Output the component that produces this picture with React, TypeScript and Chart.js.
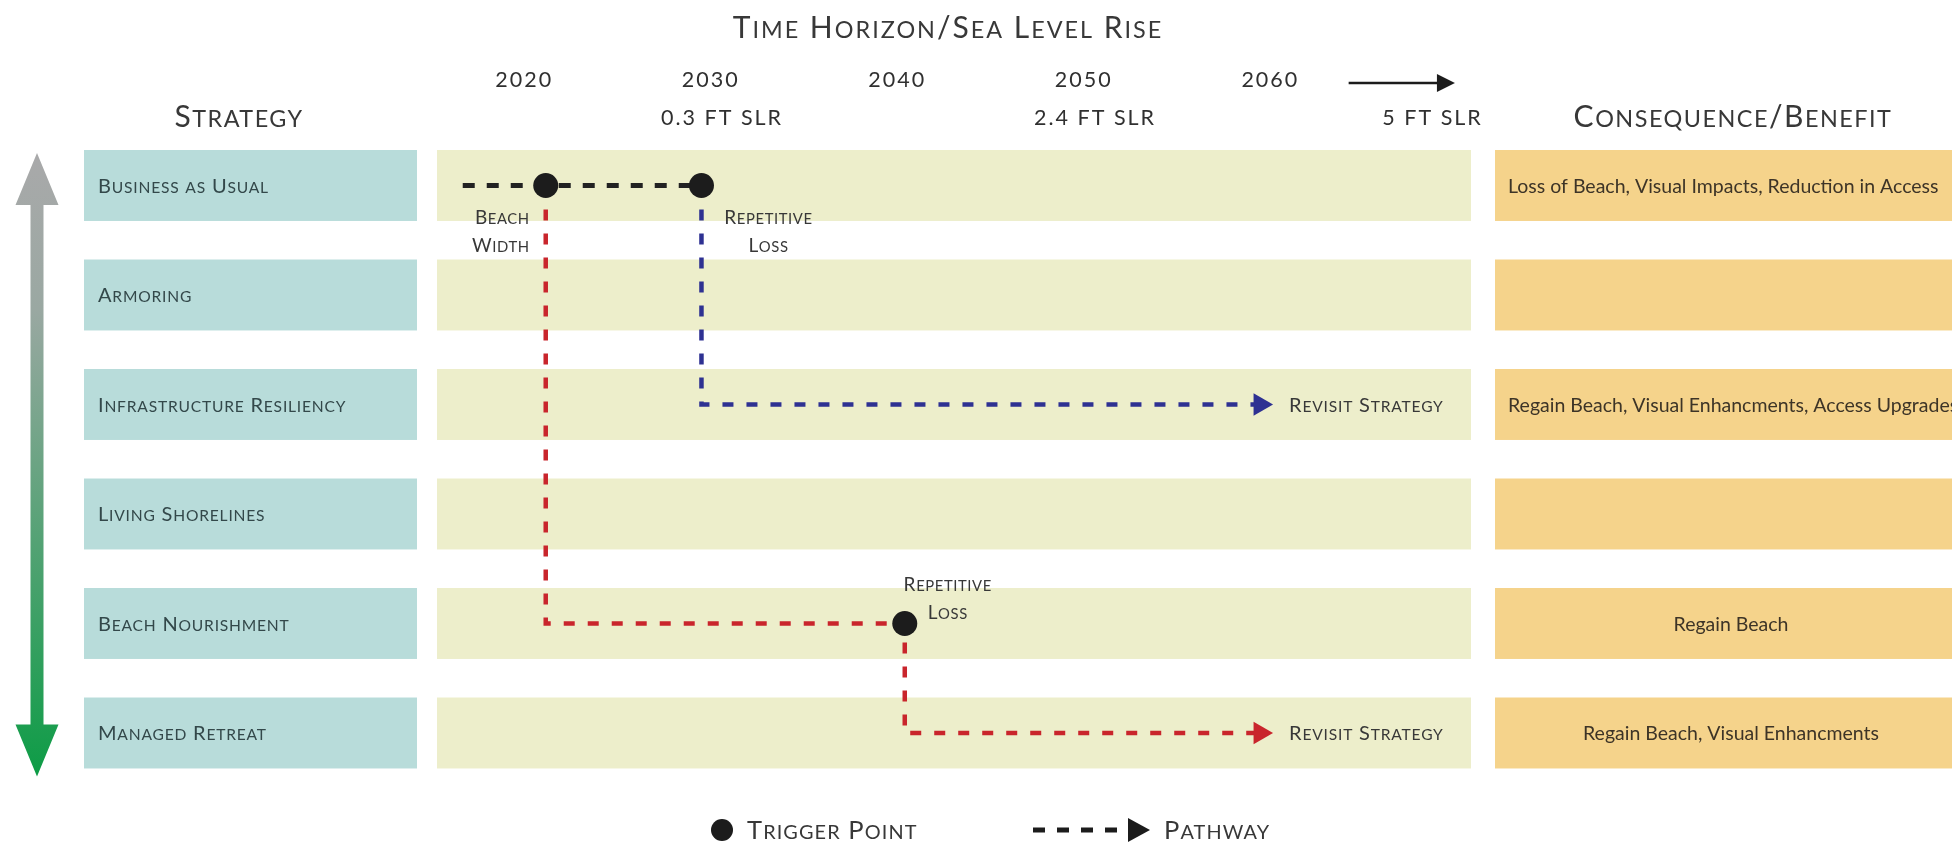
import React, { useEffect, useRef } from 'react';
import { Chart, registerables } from 'chart.js';

Chart.register(...registerables);

// ---------- data ----------
const STRATEGIES = [
  'Business as Usual',
  'Armoring',
  'Infrastructure Resiliency',
  'Living Shorelines',
  'Beach Nourishment',
  'Managed Retreat',
];
const CONSEQUENCES = [
  'Loss of Beach, Visual Impacts, Reduction in Access',
  '',
  'Regain Beach, Visual Enhancments, Access Upgrades',
  '',
  'Regain Beach',
  'Regain Beach, Visual Enhancments',
];
const CONSEQUENCE_ALIGN = ['left', 'left', 'left', 'left', 'center', 'center'];

const TICK_YEARS = [2020, 2030, 2040, 2050, 2060, 2068.7];
const YEAR_LABELS = ['2020', '2030', '2040', '2050', '2060', ''];
const SLR_LABELS = ['', '   0.3 FT SLR', '', '   2.4 FT SLR', '', '5 FT SLR'];

const TRIGGER_YEARS = [2021.15, 2029.5, 2040.4];
const TRIGGER_ROWS = [0, 0, 4];
const TRIGGER_NOTES = [
  ['Beach', 'Width'],
  ['Repetitive', 'Loss'],
  ['Repetitive', 'Loss'],
];

const BAU_YEARS = [2016.7, 2021.15, 2029.5];
const BAU_ROWS = [0, 0, 0];
const NOURISH_YEARS = [2021.15, 2021.15, 2040.4, 2040.4, 2059.45];
const NOURISH_ROWS = [0, 4, 4, 5, 5];
const RESILIENCY_YEARS = [2029.5, 2029.5, 2059.45];
const RESILIENCY_ROWS = [0, 2, 2];
const REVISIT_ROWS = [2, 5];
const REVISIT_YEAR = 2059.45;
const REVISIT_LABEL = 'Revisit Strategy';

const TITLE = 'Time Horizon/Sea Level Rise';
const LEFT_HEADER = 'Strategy';
const RIGHT_HEADER = 'Consequence/Benefit';
const LEGEND_POINT = 'Trigger Point';
const LEGEND_PATH = 'Pathway';

// ---------- styles ----------
const TEAL = '#b8dcda';
const YELLOW = '#edeecb';
const ORANGE = '#f5d38b';
const INK = '#383838';
const TICK_INK = '#303030';
const LABEL_INK = '#33484a';
const BROWN_INK = '#3d3427';
const RED = '#c9252c';
const BLUE = '#2e3192';
const BLACK = '#1c1c1c';
const BAND_HALF = 0.324;
const FAMILY = 'Lato';

function zip(xs: number[], ys: number[]) {
  return xs.map((x, i) => ({ x, y: ys[i] }));
}

function drawSmallCaps(
  ctx: CanvasRenderingContext2D,
  text: string,
  x: number,
  y: number,
  size: number,
  align: string,
  color: string,
  spacing = 0,
  ratio = 0.78,
) {
  const runs: { t: string; s: number; w: number }[] = [];
  for (const ch of text) {
    const lower = ch !== ch.toUpperCase();
    const s = lower ? size * ratio : size;
    const c = ch.toUpperCase();
    const last = runs[runs.length - 1];
    if (last && last.s === s) last.t += c;
    else runs.push({ t: c, s, w: 0 });
  }
  ctx.save();
  (ctx as any).letterSpacing = spacing + 'px';
  let total = 0;
  for (const r of runs) {
    ctx.font = `${r.s}px ${FAMILY}`;
    r.w = ctx.measureText(r.t).width;
    total += r.w;
  }
  let cx = align === 'center' ? x - total / 2 : align === 'right' ? x - total : x;
  ctx.fillStyle = color;
  ctx.textAlign = 'left';
  ctx.textBaseline = 'alphabetic';
  const base = y + size * 0.36;
  for (const r of runs) {
    ctx.font = `${r.s}px ${FAMILY}`;
    ctx.fillText(r.t, cx, base);
    cx += r.w;
  }
  ctx.restore();
  return total;
}

function triangleRight(ctx: CanvasRenderingContext2D, tipX: number, cy: number, len: number, halfH: number, color: string) {
  ctx.beginPath();
  ctx.moveTo(tipX, cy);
  ctx.lineTo(tipX - len, cy - halfH);
  ctx.lineTo(tipX - len, cy + halfH);
  ctx.closePath();
  ctx.fillStyle = color;
  ctx.fill();
}

const diagramPlugin = {
  id: 'diagram',
  beforeDraw(chart: any) {
    const { ctx, chartArea: a, scales } = chart;
    const x = scales.x;
    const y = scales.y;
    ctx.save();
    ctx.fillStyle = '#ffffff';
    ctx.fillRect(0, 0, chart.width, chart.height);

    const half = Math.abs(y.getPixelForValue(BAND_HALF) - y.getPixelForValue(0));
    STRATEGIES.forEach((name, i) => {
      const cy = y.getPixelForValue(i);
      ctx.fillStyle = TEAL;
      ctx.fillRect(84, cy - half, 417 - 84, 2 * half);
      ctx.fillStyle = YELLOW;
      ctx.fillRect(a.left, cy - half, a.right - a.left, 2 * half);
      ctx.fillStyle = ORANGE;
      ctx.fillRect(1495, cy - half, chart.width - 1495, 2 * half);
      drawSmallCaps(ctx, name, 98, cy, 20, 'left', LABEL_INK, 0.8);
      const txt = CONSEQUENCES[i];
      if (txt) {
        ctx.font = `19.5px ${FAMILY}`;
        ctx.fillStyle = BROWN_INK;
        ctx.textBaseline = 'middle';
        const al = CONSEQUENCE_ALIGN[i];
        ctx.textAlign = al === 'center' ? 'center' : 'left';
        ctx.fillText(txt, al === 'center' ? 1731 : 1508, cy + 1);
      }
    });

    // vertical gradient double arrow
    const top = y.getPixelForValue(-BAND_HALF) + 3;
    const bottom = y.getPixelForValue(STRATEGIES.length - 1 + BAND_HALF) + 8;
    const cx = 37, sw = 6.5, hw = 21.5, hl = 52;
    const g = ctx.createLinearGradient(0, top, 0, bottom);
    g.addColorStop(0, '#a9a9aa');
    g.addColorStop(0.25, '#9aa8a2');
    g.addColorStop(1, '#0d9c46');
    ctx.beginPath();
    ctx.moveTo(cx, top);
    ctx.lineTo(cx + hw, top + hl);
    ctx.lineTo(cx + sw, top + hl);
    ctx.lineTo(cx + sw, bottom - hl);
    ctx.lineTo(cx + hw, bottom - hl);
    ctx.lineTo(cx, bottom);
    ctx.lineTo(cx - hw, bottom - hl);
    ctx.lineTo(cx - sw, bottom - hl);
    ctx.lineTo(cx - sw, top + hl);
    ctx.lineTo(cx - hw, top + hl);
    ctx.closePath();
    ctx.fillStyle = g;
    ctx.fill();

    // headers
    drawSmallCaps(ctx, TITLE, 948, 27, 30, 'center', INK, 2);
    drawSmallCaps(ctx, LEFT_HEADER, 239, 116, 30, 'center', INK, 1.5);
    drawSmallCaps(ctx, RIGHT_HEADER, 1733, 116, 30, 'center', INK, 1.5);

    // time arrow in header
    const ax0 = x.getPixelForValue(2064.2);
    const ax1 = x.getPixelForValue(2069.9);
    ctx.strokeStyle = BLACK;
    ctx.lineWidth = 2.5;
    ctx.beginPath();
    ctx.moveTo(ax0, 83);
    ctx.lineTo(ax1 - 14, 83);
    ctx.stroke();
    triangleRight(ctx, ax1, 83, 18, 9, BLACK);

    // legend
    ctx.beginPath();
    ctx.arc(722, 830, 11, 0, Math.PI * 2);
    ctx.fillStyle = BLACK;
    ctx.fill();
    drawSmallCaps(ctx, LEGEND_POINT, 747, 830, 25.5, 'left', INK, 1.1);
    ctx.setLineDash([12, 12]);
    ctx.lineWidth = 5;
    ctx.strokeStyle = BLACK;
    ctx.beginPath();
    ctx.moveTo(1033, 830);
    ctx.lineTo(1132, 830);
    ctx.stroke();
    ctx.setLineDash([]);
    triangleRight(ctx, 1150, 830, 22, 12, BLACK);
    drawSmallCaps(ctx, LEGEND_PATH, 1164, 830, 25.5, 'left', INK, 1.1);

    ctx.restore();
    ctx.letterSpacing = '2px';
  },
  beforeDatasetsDraw(chart: any) {
    chart.ctx.letterSpacing = '0px';
  },
  afterDatasetsDraw(chart: any) {
    const { ctx, scales } = chart;
    const x = scales.x;
    const y = scales.y;
    const offsets = [
      { dx: -16, dy: 31.5, align: 'right' },
      { dx: 67, dy: 31.5, align: 'center' },
      { dx: 43, dy: -39.5, align: 'center' },
    ];
    TRIGGER_YEARS.forEach((yr, i) => {
      const px = x.getPixelForValue(yr);
      const py = y.getPixelForValue(TRIGGER_ROWS[i]);
      const o = offsets[i];
      TRIGGER_NOTES[i].forEach((line, k) => {
        drawSmallCaps(ctx, line, px + o.dx, py + o.dy + k * 28, 19, o.align, INK, 0.6);
      });
    });
    REVISIT_ROWS.forEach((r) => {
      const px = x.getPixelForValue(REVISIT_YEAR);
      const py = y.getPixelForValue(r);
      drawSmallCaps(ctx, REVISIT_LABEL, px + 29, py, 20, 'left', INK, 0.8);
    });
  },
};

export default function App() {
  const ref = useRef<HTMLCanvasElement>(null);
  useEffect(() => {
    const canvas = ref.current!;
    const chart = new Chart(canvas, {
      type: 'line',
      data: {
        datasets: [
          {
            label: LEGEND_POINT,
            data: zip(TRIGGER_YEARS, TRIGGER_ROWS),
            showLine: false,
            pointRadius: 12.5,
            pointBorderWidth: 0,
            pointBackgroundColor: BLACK,
            borderColor: BLACK,
          },
          {
            label: 'Business as usual pathway',
            data: zip(BAU_YEARS, BAU_ROWS),
            borderColor: '#222222',
            borderWidth: 5,
            borderDash: [12, 12],
            pointRadius: 0,
            tension: 0,
          },
          {
            label: 'Beach nourishment pathway',
            data: zip(NOURISH_YEARS, NOURISH_ROWS),
            borderColor: RED,
            borderWidth: 4.5,
            borderDash: [11, 13],
            pointRadius: NOURISH_YEARS.map((_, i) => (i === NOURISH_YEARS.length - 1 ? 13 : 0)),
            pointStyle: 'triangle',
            pointRotation: 90,
            pointBackgroundColor: RED,
            pointBorderWidth: 0,
            tension: 0,
          },
          {
            label: 'Infrastructure resiliency pathway',
            data: zip(RESILIENCY_YEARS, RESILIENCY_ROWS),
            borderColor: BLUE,
            borderWidth: 4.5,
            borderDash: [11, 13],
            pointRadius: RESILIENCY_YEARS.map((_, i) => (i === RESILIENCY_YEARS.length - 1 ? 13 : 0)),
            pointStyle: 'triangle',
            pointRotation: 90,
            pointBackgroundColor: BLUE,
            pointBorderWidth: 0,
            tension: 0,
          },
        ],
      },
      options: {
        responsive: false,
        animation: false,
        events: [],
        layout: { padding: { left: 437, right: 481, top: 0, bottom: 78 } },
        plugins: {
          legend: { display: false },
          tooltip: { enabled: false },
          title: { display: false },
        },
        scales: {
          x: {
            type: 'linear',
            position: 'top',
            min: 2015.32,
            max: 2070.76,
            grid: { display: false, drawTicks: false },
            border: { display: false },
            afterFit: (s: any) => {
              s.height = 150;
            },
            afterBuildTicks: (s: any) => {
              s.ticks = TICK_YEARS.map((v) => ({ value: v }));
            },
            ticks: {
              autoSkip: false,
              maxRotation: 0,
              minRotation: 0,
              padding: 13,
              color: TICK_INK,
              font: { family: FAMILY, size: 21.5, lineHeight: '38px' } as any,
              callback: (_v: any, i: number) => [YEAR_LABELS[i], SLR_LABELS[i]],
            },
          },
          y: {
            type: 'linear',
            display: false,
            reverse: true,
            min: -0.324,
            max: 5.338,
          },
        },
      },
      plugins: [diagramPlugin],
    } as any);
    return () => chart.destroy();
  }, []);
  return (
    <div style={{ position: 'absolute', left: 0, top: 0, width: 1952, height: 848, background: '#fff' }}>
      <canvas ref={ref} width={1952} height={848} style={{ display: 'block', width: 1952, height: 848 }} />
    </div>
  );
}
